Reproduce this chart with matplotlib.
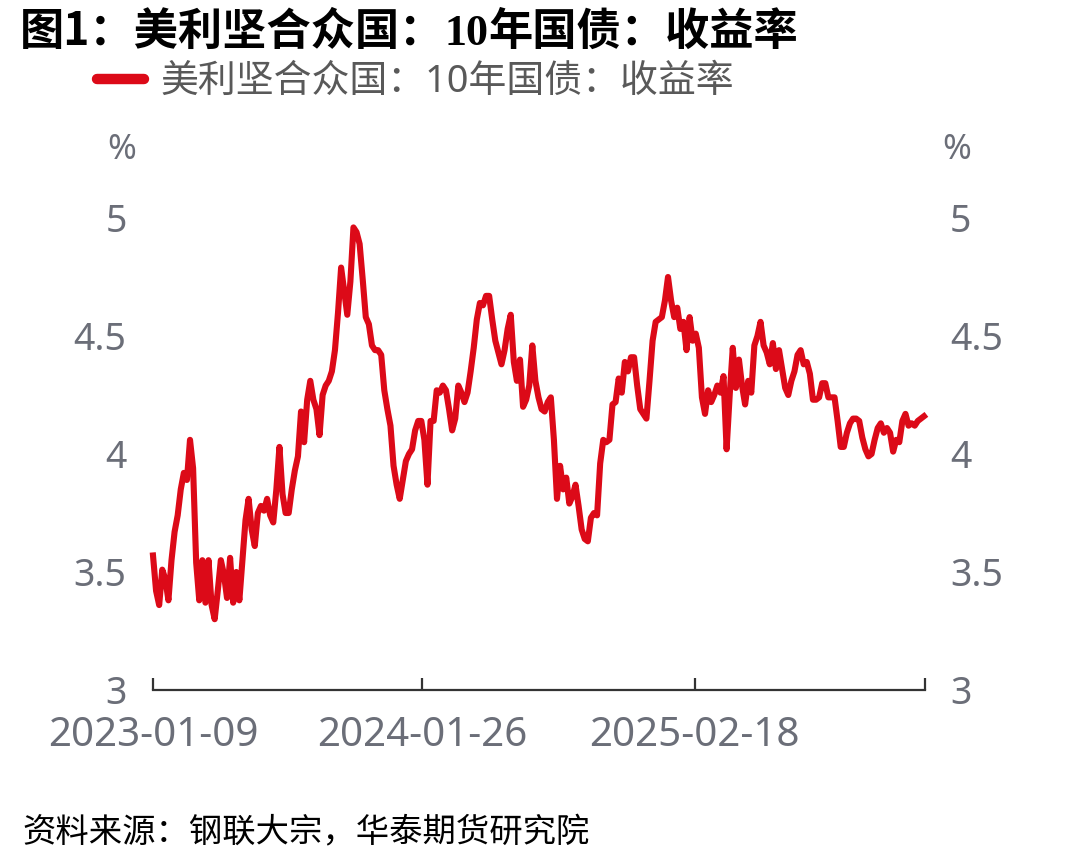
import numpy as np
import pandas as pd
import matplotlib
matplotlib.use('Agg')
import matplotlib.pyplot as plt
from pandas.tseries.holiday import USFederalHolidayCalendar
from pandas.tseries.offsets import CustomBusinessDay

# 美国10年国债收益率(%), 每3个交易日取一个值, 从2023-01-09开始
start_date = '2023-01-09'
n_days = 752
step = 3
yields = [3.57, 3.42, 3.36, 3.51, 3.47, 3.38, 3.55, 3.67, 3.74, 3.85,
          3.92, 3.89, 4.06, 3.94, 3.54, 3.38, 3.55, 3.37, 3.55, 3.36,
          3.30, 3.42, 3.55, 3.49, 3.39, 3.56, 3.37, 3.50, 3.38, 3.55,
          3.72, 3.81, 3.68, 3.61, 3.75, 3.78, 3.76, 3.81, 3.74, 3.71,
          3.85, 4.03, 3.83, 3.75, 3.75, 3.85, 3.93, 3.99, 4.18, 4.05,
          4.23, 4.31, 4.23, 4.19, 4.08, 4.25, 4.29, 4.31, 4.35, 4.44,
          4.60, 4.79, 4.69, 4.59, 4.73, 4.96, 4.94, 4.89, 4.74, 4.58,
          4.55, 4.46, 4.44, 4.44, 4.42, 4.27, 4.19, 4.12, 3.95, 3.87,
          3.81, 3.89, 3.97, 4.00, 4.02, 4.10, 4.14, 4.14, 4.06, 3.87,
          4.14, 4.14, 4.27, 4.26, 4.29, 4.27, 4.19, 4.10, 4.15, 4.29,
          4.26, 4.22, 4.26, 4.35, 4.45, 4.57, 4.64, 4.63, 4.67, 4.67,
          4.57, 4.48, 4.43, 4.38, 4.44, 4.53, 4.59, 4.39, 4.31, 4.40,
          4.20, 4.23, 4.29, 4.46, 4.31, 4.24, 4.19, 4.18, 4.22, 4.24,
          4.06, 3.81, 3.95, 3.85, 3.90, 3.79, 3.82, 3.87, 3.78, 3.68,
          3.64, 3.63, 3.73, 3.75, 3.74, 3.96, 4.06, 4.05, 4.06, 4.21,
          4.22, 4.32, 4.26, 4.39, 4.35, 4.41, 4.41, 4.29, 4.19, 4.17,
          4.15, 4.31, 4.48, 4.56, 4.57, 4.58, 4.65, 4.75, 4.65, 4.58,
          4.62, 4.53, 4.56, 4.44, 4.58, 4.48, 4.51, 4.45, 4.24, 4.17,
          4.27, 4.22, 4.25, 4.29, 4.26, 4.33, 4.02, 4.25, 4.45, 4.28,
          4.40, 4.29, 4.21, 4.31, 4.26, 4.46, 4.50, 4.56, 4.46, 4.43,
          4.38, 4.47, 4.36, 4.44, 4.36, 4.28, 4.25, 4.31, 4.35, 4.42,
          4.44, 4.38, 4.39, 4.34, 4.23, 4.23, 4.24, 4.30, 4.30, 4.24,
          4.24, 4.24, 4.14, 4.03, 4.03, 4.09, 4.13, 4.15, 4.15, 4.14,
          4.07, 4.02, 3.99, 4.00, 4.06, 4.11, 4.13, 4.09, 4.11, 4.09,
          4.01, 4.06, 4.05, 4.14, 4.17, 4.12, 4.13, 4.12, 4.14, 4.15,
          4.16]
tick_dates = ['2023-01-09', '2024-01-26', '2025-02-18']
yticks = [3, 3.5, 4, 4.5, 5]
ytick_labels = ['3', '3.5', '4', '4.5', '5']

title_parts = ['图1：美利坚合众国：', '10', '年国债：收益率']
series_name = '美利坚合众国：10年国债：收益率'
source = '资料来源：钢联大宗，华泰期货研究院'

red = '#dc0a18'
gray = '#6b6e78'
plt.rcParams['font.family'] = ['Noto Sans', 'Noto Sans CJK SC', 'DejaVu Sans']

# 交易日序列(近似), 横轴按交易日排列
trade_days = pd.date_range(start_date, periods=n_days,
                           freq=CustomBusinessDay(calendar=USFederalHolidayCalendar()))
sample_days = trade_days[::step][:len(yields)]
x = trade_days.get_indexer(sample_days)
tick_pos = list(trade_days.get_indexer(pd.to_datetime(tick_dates))) + [n_days - 1]
tick_lab = tick_dates + ['']

W, H = 1078, 866
fig = plt.figure(figsize=(W / 100, H / 100), dpi=100)
ax = fig.add_axes([153 / W, 1 - 690 / H, 772 / W, 472 / H])
ax.plot(x, yields, color=red, lw=4.4, label=series_name, clip_on=False)

ax.set_xlim(0, n_days - 1)
ax.set_ylim(3, 5)
ax.set_xticks(tick_pos)
ax.set_xticklabels(tick_lab)
ax.set_yticks(yticks)
ax.set_yticklabels(ytick_labels)
ax.tick_params(axis='x', direction='in', length=9, width=1.6, color='#333333',
               labelcolor=gray, labelsize=29, pad=19)
ax.tick_params(axis='y', length=0, labelcolor=gray, labelsize=27, pad=19)
for s in ['left', 'right', 'top']:
    ax.spines[s].set_visible(False)
ax.spines['bottom'].set_color('#333333')
ax.spines['bottom'].set_linewidth(1.6)

ax2 = ax.twinx()
ax2.set_ylim(3, 5)
ax2.set_yticks(yticks)
ax2.set_yticklabels(ytick_labels)
ax2.tick_params(axis='y', length=0, labelcolor=gray, labelsize=27, pad=18)
for s in ax2.spines.values():
    s.set_visible(False)

fig.text(122 / W, 1 - 150 / H, '%', color=gray, fontsize=25, ha='center', va='center')
fig.text(957 / W, 1 - 150 / H, '%', color=gray, fontsize=25, ha='center', va='center')

leg = ax.legend(loc='center left', bbox_to_anchor=(97 / W, 1 - 82 / H),
                bbox_transform=fig.transFigure, frameon=False, fontsize=27.3,
                borderaxespad=0, borderpad=0, handlelength=1.25, handletextpad=0.42,
                labelcolor='#595959')
for ln in leg.get_lines():
    ln.set_linewidth(7.5)
    ln.set_solid_capstyle('round')

# 标题: 数字部分用衬线字体
renderer = fig.canvas.get_renderer()
tx = 20
for part in title_parts:
    fam = ['Liberation Serif'] if part.isdigit() else ['Noto Sans CJK SC']
    t = fig.text(tx / W, 1 - 45 / H, part, fontsize=31.9, fontweight='bold',
                 family=fam, color='black', va='baseline', ha='left')
    tx = t.get_window_extent(renderer).x1

fig.text(22 / W, 1 - 833 / H, source, fontsize=24, style='italic',
         color='black', va='center', family=['Noto Sans CJK SC'])

fig.savefig('out.png', dpi=100)
